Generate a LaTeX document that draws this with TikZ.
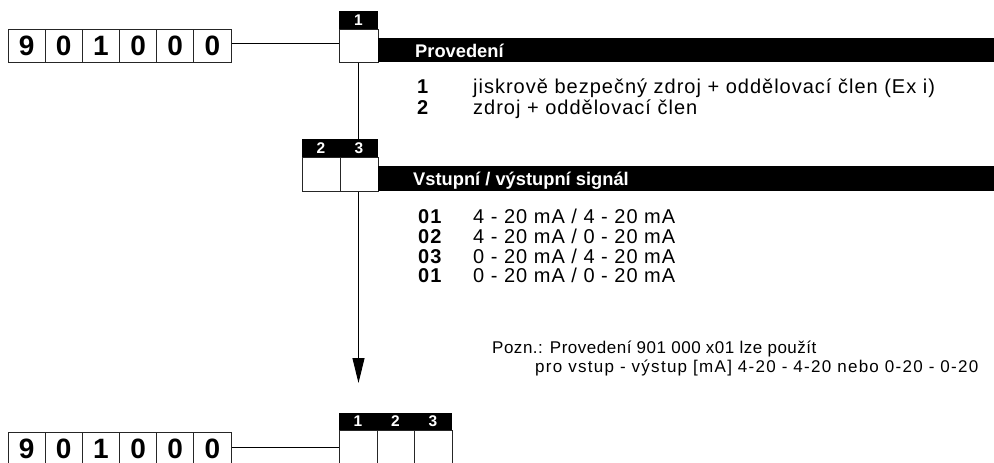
\documentclass[tikz,border=0pt]{standalone}
\usepackage{fontspec}
\setmainfont{Liberation Sans}
\newfontfamily\bodyfont[LetterSpace=5]{Liberation Sans}
\newfontfamily\noteAfont[LetterSpace=3]{Liberation Sans}
\newfontfamily\noteBfont[LetterSpace=7.5]{Liberation Sans}
\usetikzlibrary{arrows.meta}
\begin{document}
\begin{tikzpicture}[x=1pt,y=-1pt,
  digitcell/.style={draw=black!85, line width=1pt, minimum width=37.2pt, minimum height=33pt,
    inner sep=0pt, font=\fontsize{28}{28}\selectfont\bfseries},
  selcell/.style={draw=black!85, line width=1pt, minimum height=34pt, inner sep=0pt},
  hdr/.style={fill=black, text=white, inner sep=0pt, minimum height=18pt,
    font=\fontsize{15.5}{15.5}\selectfont\bfseries},
  bar/.style={fill=black, inner sep=0pt, anchor=north west, minimum width=620pt},
  title/.style={text=white, inner sep=0pt, anchor=base west, font=\fontsize{18.3}{18.3}\selectfont\bfseries},
  body/.style={inner sep=0pt, anchor=base west, font=\fontsize{20}{20}\bodyfont},
  bodyb/.style={inner sep=0pt, anchor=base west, font=\fontsize{20}{20}\bodyfont\bfseries},
  noteA/.style={inner sep=0pt, anchor=base west, font=\fontsize{17}{17}\noteAfont},
  noteB/.style={inner sep=0pt, anchor=base west, font=\fontsize{17}{17}\noteBfont},
  conn/.style={line width=1pt, draw=black},
  arrowconn/.style={conn, -{Triangle[length=25pt,width=12pt]}}
]
\useasboundingbox (0,0) rectangle (994,463);

% top code row
\node[digitcell] (d1) at (26.6,45.5) {9};
\node[digitcell] (d2) at (63.75,45.5) {0};
\node[digitcell] (d3) at (100.9,45.5) {1};
\node[digitcell] (d4) at (138.1,45.5) {0};
\node[digitcell] (d5) at (175.25,45.5) {0};
\node[digitcell] (d6) at (212.4,45.5) {0};

% position 1
\node[hdr, minimum width=39pt] (h1) at (358.5,20) {1};
\node[selcell, minimum width=39pt, minimum height=33pt] (b1) at (358.5,45.5) {};
\node[bar, minimum height=24pt] (bar1) at (378,38) {};
\node[title] (t1) at (415,57) {Provedení};
\node[bodyb] (k11) at (417,93) {1};
\node[body] (v11) at (473,93) {jiskrově bezpečný zdroj + oddělovací člen (Ex i)};
\node[bodyb] (k12) at (417,114) {2};
\node[body] (v12) at (473,114) {zdroj + oddělovací člen};

% positions 2,3
\node[hdr, minimum width=38pt] (h2) at (321,148) {2};
\node[hdr, minimum width=38pt] (h3) at (359,148) {3};
\node[selcell, minimum width=38pt] (b2) at (321,174) {};
\node[selcell, minimum width=38pt] (b3) at (359,174) {};
\node[bar, minimum height=25pt] (bar2) at (378,166) {};
\node[title] (t2) at (413,185) {Vstupní / výstupní signál};
\node[bodyb] (k21) at (418,223) {01};
\node[body]  (v21) at (473,223) {4 - 20 mA / 4 - 20 mA};
\node[bodyb] (k22) at (418,243) {02};
\node[body]  (v22) at (473,243) {4 - 20 mA / 0 - 20 mA};
\node[bodyb] (k23) at (418,263) {03};
\node[body]  (v23) at (473,263) {0 - 20 mA / 4 - 20 mA};
\node[bodyb] (k24) at (418,282) {01};
\node[body]  (v24) at (473,282) {0 - 20 mA / 0 - 20 mA};

\node[noteA] (n1) at (492,353) {Pozn.: Provedení 901 000 x01 lze použít};
\node[noteB] (n2) at (535,372) {pro vstup - výstup [mA] 4-20 - 4-20 nebo 0-20 - 0-20};

% bottom code row
\node[digitcell] (e1) at (26.6,448.5) {9};
\node[digitcell] (e2) at (63.75,448.5) {0};
\node[digitcell] (e3) at (100.9,448.5) {1};
\node[digitcell] (e4) at (138.1,448.5) {0};
\node[digitcell] (e5) at (175.25,448.5) {0};
\node[digitcell] (e6) at (212.4,448.5) {0};

\node[hdr, minimum width=38pt, minimum height=17pt] (g1) at (358,421.5) {1};
\node[hdr, minimum width=37pt, minimum height=17pt] (g2) at (395.5,421.5) {2};
\node[hdr, minimum width=38pt, minimum height=17pt] (g3) at (433,421.5) {3};
\node[selcell, minimum width=38pt, minimum height=36pt] (c1) at (358,448) {};
\node[selcell, minimum width=37pt, minimum height=36pt] (c2) at (395.5,448) {};
\node[selcell, minimum width=38pt, minimum height=36pt] (c3) at (433,448) {};

% connectors
\coordinate (tip) at (358.5,383);
\draw[conn] ([yshift=2.5pt]d6.east) -- ([yshift=2.5pt]b1.west);
\draw[conn] (b1.south) -- (b1.south |- h3.north);
\draw[arrowconn] (b1.south |- b3.south) -- (tip);
\draw[conn] ([yshift=1.5pt]e6.east) -- ([yshift=1pt]c1.west);
\end{tikzpicture}
\end{document}
